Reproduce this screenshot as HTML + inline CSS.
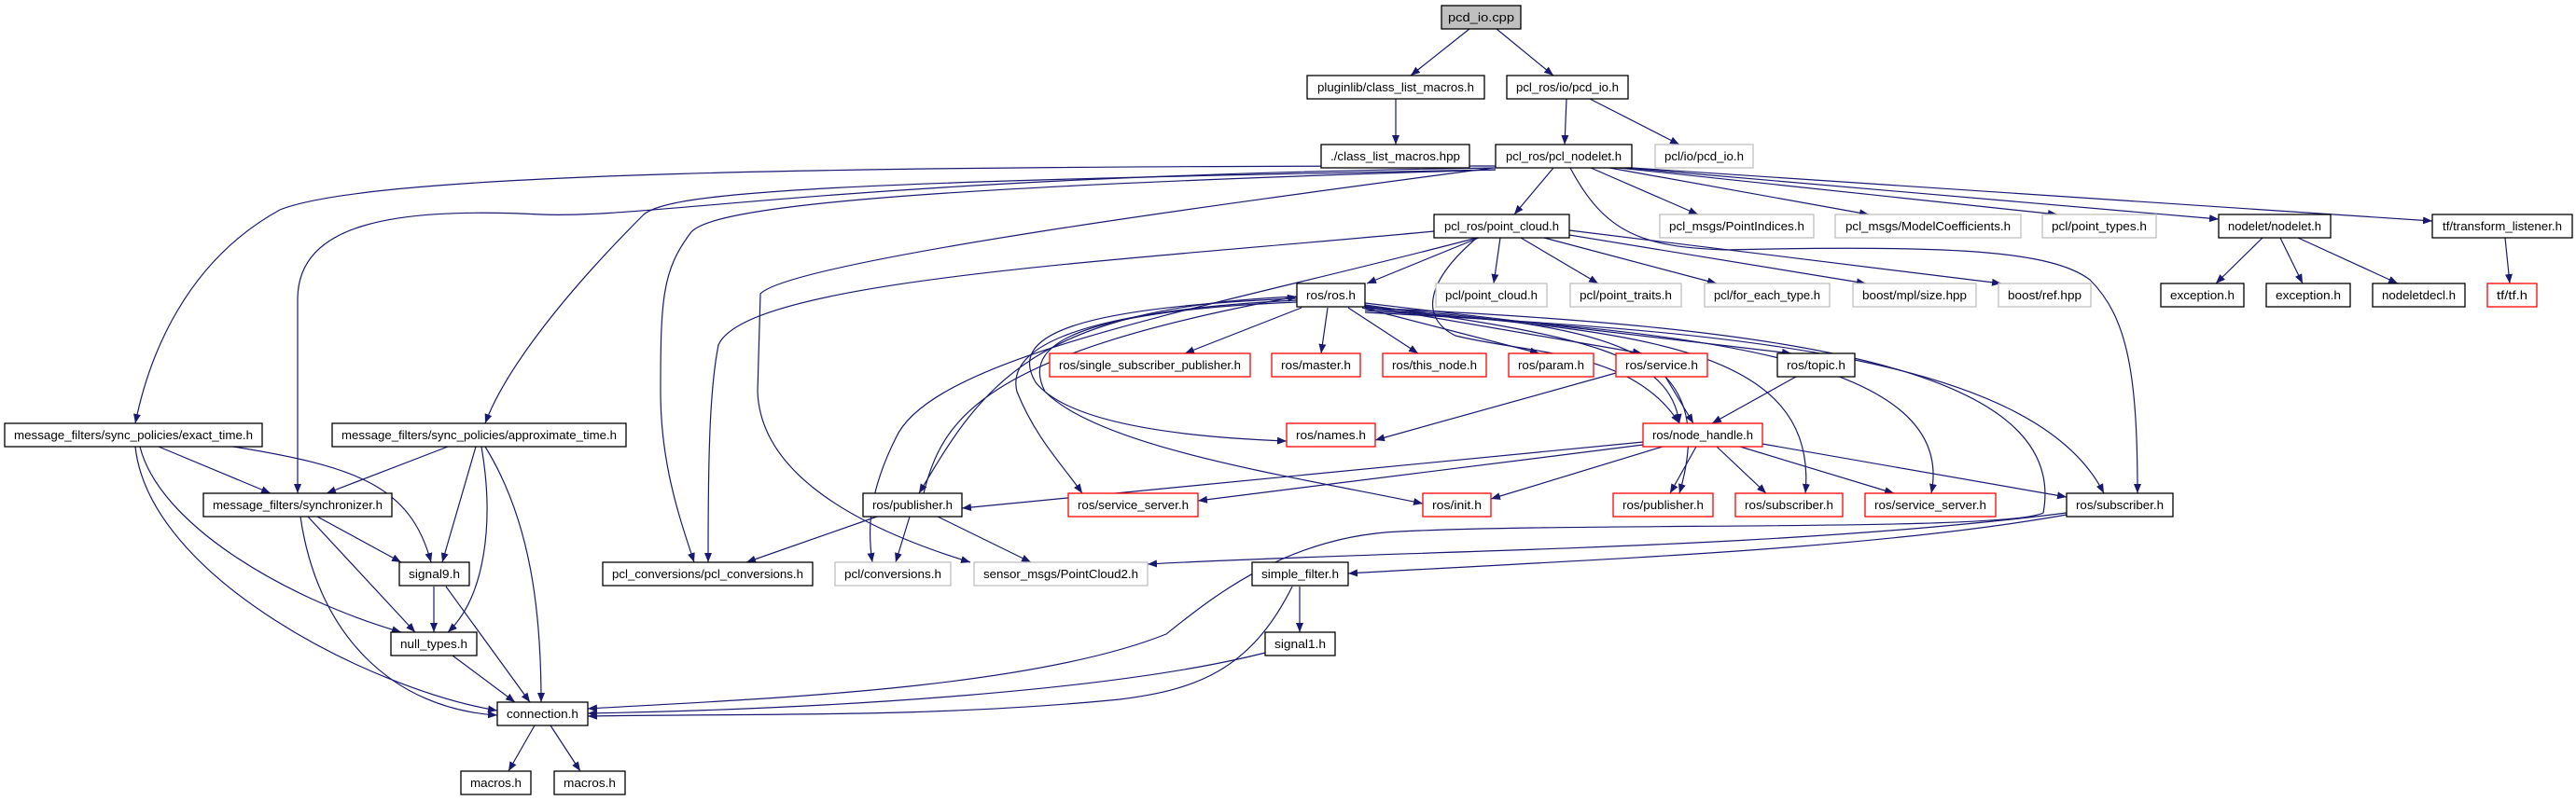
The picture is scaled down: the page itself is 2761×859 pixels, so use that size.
<!DOCTYPE html>
<html><head><meta charset="utf-8"><style>
html,body{margin:0;padding:0;background:#fff;}
svg{display:block;}
text{font-family:"Liberation Sans",sans-serif;font-size:13px;fill:#000;}
.e{fill:none;stroke:#191970;stroke-width:1.2;}
</style></head><body>
<svg width="2761" height="859" viewBox="0 0 2761 859" xmlns="http://www.w3.org/2000/svg">
<defs><marker id="a" viewBox="0 0 10 8" refX="10" refY="4" markerWidth="10" markerHeight="8" markerUnits="userSpaceOnUse" orient="auto"><path d="M0,0 L10,4 L0,8 z" fill="#191970"/></marker></defs>
<g class="e" marker-end="url(#a)">
<path d="M1575,31 L1512,81"/>
<path d="M1604,31 L1665,81"/>
<path d="M1496,106 L1496,155"/>
<path d="M1679,106 L1677,155"/>
<path d="M1704,106 L1800,155"/>
<path d="M1665,180 L1623,230"/>
<path d="M1705,180 L1820,230"/>
<path d="M1725,180 L2003,230"/>
<path d="M1735,180 L2205,230"/>
<path d="M1742,180 L2378,235"/>
<path d="M1749,180 L2607,237"/>
<path d="M1603,178 C900,178 400,185 300,225 C200,280 160,380 145,454"/>
<path d="M1603,180 C900,190 700,235 580,230 C420,222 320,240 319,320 L319,529"/>
<path d="M1603,182 C900,195 720,205 690,230 C600,320 540,400 520,454"/>
<path d="M1603,182 C1000,200 760,220 740,250 C710,290 708,320 708,420 C708,500 730,560 744,603"/>
<path d="M1537,248 C1200,280 800,300 770,370 C760,420 759,500 759,603"/>
<path d="M1600,180 C1300,220 850,280 815,315 L812,420 C815,500 900,560 1040,603"/>
<path d="M1583,255 C1300,330 1000,380 960,470 C930,530 930,570 935,603"/>
<path d="M1683,180 C1720,250 1760,265 1850,268 C2100,262 2200,270 2240,300 C2280,340 2291,400 2291,529"/>
<path d="M1585,255 L1465,304"/>
<path d="M1608,255 L1601,304"/>
<path d="M1630,255 L1713,304"/>
<path d="M1655,255 L1840,304"/>
<path d="M1682,252 L2000,304"/>
<path d="M1682,247 L2145,304"/>
<path d="M1583,255 C1530,300 1520,340 1560,360 C1640,380 1750,375 1800,454"/>
<path d="M1395,330 L1270,379"/>
<path d="M1423,330 L1416,379"/>
<path d="M1445,330 L1520,379"/>
<path d="M1460,330 L1650,379"/>
<path d="M1463,328 L1760,379"/>
<path d="M1463,325 L1920,379"/>
<path d="M1463,327 C1700,360 1790,380 1800,454"/>
<path d="M1390,320 C1150,330 1080,360 1110,410 C1150,460 1300,470 1379,473"/>
<path d="M1390,318 C1100,330 1050,420 985,529"/>
<path d="M1390,322 C1130,335 1080,380 1090,420 C1110,470 1140,500 1160,529"/>
<path d="M1390,324 C1120,335 1100,380 1120,420 C1180,480 1380,510 1525,540"/>
<path d="M1463,329 C1700,350 1850,360 1800,529"/>
<path d="M1463,331 C1750,355 1950,370 1935,529"/>
<path d="M1463,333 C1800,355 2100,380 2070,529"/>
<path d="M1463,335 C1850,355 2180,380 2255,529"/>
<path d="M1463,330 C1900,350 2220,390 2190,550 C2150,570 1700,560 1500,570 C1380,575 1300,640 1250,680 C1100,740 800,750 630,760"/>
<path d="M990,529 C1010,450 1050,380 1390,318"/>
<path d="M1732,400 L1474,472"/>
<path d="M1785,404 L1815,454"/>
<path d="M1925,404 L1835,454"/>
<path d="M1761,474 L1031,545"/>
<path d="M1761,477 L1284,537"/>
<path d="M1782,479 L1598,535"/>
<path d="M1818,479 L1790,529"/>
<path d="M1840,479 L1893,529"/>
<path d="M1865,479 L2030,529"/>
<path d="M1889,476 L2215,533"/>
<path d="M940,554 L800,603"/>
<path d="M975,554 L960,603"/>
<path d="M1005,554 L1105,603"/>
<path d="M2215,552 C2000,590 1700,600 1445,615"/>
<path d="M2215,550 C1900,590 1500,590 1230,605"/>
<path d="M1393,629 L1393,678"/>
<path d="M1385,629 C1340,720 1280,740 1200,750 C1000,770 800,765 630,768"/>
<path d="M1356,700 C1200,740 900,760 630,765"/>
<path d="M170,479 L290,529"/>
<path d="M250,479 C380,500 440,520 462,603"/>
<path d="M150,479 C170,560 300,640 430,678"/>
<path d="M145,479 C160,620 400,740 533,762"/>
<path d="M480,479 L350,529"/>
<path d="M510,479 L474,603"/>
<path d="M516,479 C530,560 520,640 480,678"/>
<path d="M520,479 C570,560 580,660 580,753"/>
<path d="M340,554 L430,603"/>
<path d="M330,554 L445,678"/>
<path d="M322,554 C340,680 420,760 533,767"/>
<path d="M465,629 L465,678"/>
<path d="M478,629 L568,753"/>
<path d="M485,703 L552,753"/>
<path d="M573,778 L545,827"/>
<path d="M590,778 L622,827"/>
<path d="M2425,255 L2375,304"/>
<path d="M2444,255 L2468,304"/>
<path d="M2463,255 L2570,304"/>
<path d="M2685,255 L2690,304"/>
</g>
<g stroke-width="1.3">
<rect x="1545" y="6" width="85" height="25" fill="#bfbfbf" stroke="#000"/><text x="1587.5" y="23" text-anchor="middle" textLength="71" lengthAdjust="spacingAndGlyphs">pcd_io.cpp</text>
</g>
<g fill="#fff" stroke-width="1.3">
<rect x="1401" y="81" width="190" height="25" stroke="#000"/>
<rect x="1615" y="81" width="130" height="25" stroke="#000"/>
<rect x="1416" y="155" width="159" height="25" stroke="#000"/>
<rect x="1603" y="155" width="146" height="25" stroke="#000"/>
<rect x="1774" y="155" width="105" height="25" stroke="#bfbfbf"/>
<rect x="1537" y="230" width="145" height="25" stroke="#000"/>
<rect x="1779" y="230" width="165" height="25" stroke="#bfbfbf"/>
<rect x="1967" y="230" width="199" height="25" stroke="#bfbfbf"/>
<rect x="2189" y="230" width="122" height="25" stroke="#bfbfbf"/>
<rect x="2378" y="230" width="120" height="25" stroke="#000"/>
<rect x="2607" y="230" width="150" height="25" stroke="#000"/>
<rect x="1390" y="304" width="73" height="25" stroke="#000"/>
<rect x="1539" y="304" width="119" height="25" stroke="#bfbfbf"/>
<rect x="1683" y="304" width="119" height="25" stroke="#bfbfbf"/>
<rect x="1827" y="304" width="134" height="25" stroke="#bfbfbf"/>
<rect x="1986" y="304" width="132" height="25" stroke="#bfbfbf"/>
<rect x="2142" y="304" width="99" height="25" stroke="#bfbfbf"/>
<rect x="2316" y="304" width="89" height="25" stroke="#000"/>
<rect x="2429" y="304" width="90" height="25" stroke="#000"/>
<rect x="2543" y="304" width="99" height="25" stroke="#000"/>
<rect x="2666" y="304" width="53" height="25" stroke="#ff0000"/>
<rect x="1125" y="379" width="215" height="25" stroke="#ff0000"/>
<rect x="1363" y="379" width="95" height="25" stroke="#ff0000"/>
<rect x="1482" y="379" width="111" height="25" stroke="#ff0000"/>
<rect x="1617" y="379" width="91" height="25" stroke="#ff0000"/>
<rect x="1732" y="379" width="98" height="25" stroke="#ff0000"/>
<rect x="1905" y="379" width="83" height="25" stroke="#000"/>
<rect x="5" y="454" width="276" height="25" stroke="#000"/>
<rect x="356" y="454" width="315" height="25" stroke="#000"/>
<rect x="1379" y="454" width="95" height="25" stroke="#ff0000"/>
<rect x="1761" y="454" width="128" height="25" stroke="#ff0000"/>
<rect x="218" y="529" width="202" height="25" stroke="#000"/>
<rect x="925" y="529" width="106" height="25" stroke="#000"/>
<rect x="1145" y="529" width="139" height="25" stroke="#ff0000"/>
<rect x="1525" y="529" width="73" height="25" stroke="#ff0000"/>
<rect x="1729" y="529" width="107" height="25" stroke="#ff0000"/>
<rect x="1860" y="529" width="115" height="25" stroke="#ff0000"/>
<rect x="1999" y="529" width="140" height="25" stroke="#ff0000"/>
<rect x="2215" y="529" width="114" height="25" stroke="#000"/>
<rect x="428" y="603" width="75" height="25" stroke="#000"/>
<rect x="646" y="603" width="225" height="25" stroke="#000"/>
<rect x="895" y="603" width="124" height="25" stroke="#bfbfbf"/>
<rect x="1044" y="603" width="186" height="25" stroke="#bfbfbf"/>
<rect x="1342" y="603" width="103" height="25" stroke="#000"/>
<rect x="419" y="678" width="92" height="25" stroke="#000"/>
<rect x="1356" y="678" width="75" height="25" stroke="#000"/>
<rect x="533" y="753" width="97" height="25" stroke="#000"/>
<rect x="494" y="827" width="75" height="25" stroke="#000"/>
<rect x="594" y="827" width="76" height="25" stroke="#000"/>
</g>
<g text-anchor="middle">
<text x="1496" y="98" textLength="168" lengthAdjust="spacingAndGlyphs">pluginlib/class_list_macros.h</text>
<text x="1680" y="98" textLength="110" lengthAdjust="spacingAndGlyphs">pcl_ros/io/pcd_io.h</text>
<text x="1495.5" y="172" textLength="139" lengthAdjust="spacingAndGlyphs">./class_list_macros.hpp</text>
<text x="1676" y="172" textLength="124" lengthAdjust="spacingAndGlyphs">pcl_ros/pcl_nodelet.h</text>
<text x="1826.5" y="172" textLength="85" lengthAdjust="spacingAndGlyphs">pcl/io/pcd_io.h</text>
<text x="1609.5" y="247" textLength="123" lengthAdjust="spacingAndGlyphs">pcl_ros/point_cloud.h</text>
<text x="1861.5" y="247" textLength="145" lengthAdjust="spacingAndGlyphs">pcl_msgs/PointIndices.h</text>
<text x="2066.5" y="247" textLength="177" lengthAdjust="spacingAndGlyphs">pcl_msgs/ModelCoefficients.h</text>
<text x="2250" y="247" textLength="102" lengthAdjust="spacingAndGlyphs">pcl/point_types.h</text>
<text x="2438" y="247" textLength="100" lengthAdjust="spacingAndGlyphs">nodelet/nodelet.h</text>
<text x="2682" y="247" textLength="128" lengthAdjust="spacingAndGlyphs">tf/transform_listener.h</text>
<text x="1426.5" y="321" textLength="53" lengthAdjust="spacingAndGlyphs">ros/ros.h</text>
<text x="1598.5" y="321" textLength="99" lengthAdjust="spacingAndGlyphs">pcl/point_cloud.h</text>
<text x="1742.5" y="321" textLength="99" lengthAdjust="spacingAndGlyphs">pcl/point_traits.h</text>
<text x="1894" y="321" textLength="114" lengthAdjust="spacingAndGlyphs">pcl/for_each_type.h</text>
<text x="2052" y="321" textLength="112" lengthAdjust="spacingAndGlyphs">boost/mpl/size.hpp</text>
<text x="2191.5" y="321" textLength="79" lengthAdjust="spacingAndGlyphs">boost/ref.hpp</text>
<text x="2360.5" y="321" textLength="69" lengthAdjust="spacingAndGlyphs">exception.h</text>
<text x="2474" y="321" textLength="70" lengthAdjust="spacingAndGlyphs">exception.h</text>
<text x="2592.5" y="321" textLength="79" lengthAdjust="spacingAndGlyphs">nodeletdecl.h</text>
<text x="2692.5" y="321" textLength="33" lengthAdjust="spacingAndGlyphs">tf/tf.h</text>
<text x="1232.5" y="396" textLength="195" lengthAdjust="spacingAndGlyphs">ros/single_subscriber_publisher.h</text>
<text x="1410.5" y="396" textLength="75" lengthAdjust="spacingAndGlyphs">ros/master.h</text>
<text x="1537.5" y="396" textLength="91" lengthAdjust="spacingAndGlyphs">ros/this_node.h</text>
<text x="1662.5" y="396" textLength="71" lengthAdjust="spacingAndGlyphs">ros/param.h</text>
<text x="1781" y="396" textLength="78" lengthAdjust="spacingAndGlyphs">ros/service.h</text>
<text x="1946.5" y="396" textLength="63" lengthAdjust="spacingAndGlyphs">ros/topic.h</text>
<text x="143" y="471" textLength="256" lengthAdjust="spacingAndGlyphs">message_filters/sync_policies/exact_time.h</text>
<text x="513.5" y="471" textLength="295" lengthAdjust="spacingAndGlyphs">message_filters/sync_policies/approximate_time.h</text>
<text x="1426.5" y="471" textLength="75" lengthAdjust="spacingAndGlyphs">ros/names.h</text>
<text x="1825" y="471" textLength="108" lengthAdjust="spacingAndGlyphs">ros/node_handle.h</text>
<text x="319" y="546" textLength="182" lengthAdjust="spacingAndGlyphs">message_filters/synchronizer.h</text>
<text x="978" y="546" textLength="86" lengthAdjust="spacingAndGlyphs">ros/publisher.h</text>
<text x="1214.5" y="546" textLength="119" lengthAdjust="spacingAndGlyphs">ros/service_server.h</text>
<text x="1561.5" y="546" textLength="53" lengthAdjust="spacingAndGlyphs">ros/init.h</text>
<text x="1782.5" y="546" textLength="87" lengthAdjust="spacingAndGlyphs">ros/publisher.h</text>
<text x="1917.5" y="546" textLength="95" lengthAdjust="spacingAndGlyphs">ros/subscriber.h</text>
<text x="2069" y="546" textLength="120" lengthAdjust="spacingAndGlyphs">ros/service_server.h</text>
<text x="2272" y="546" textLength="94" lengthAdjust="spacingAndGlyphs">ros/subscriber.h</text>
<text x="465.5" y="620" textLength="55" lengthAdjust="spacingAndGlyphs">signal9.h</text>
<text x="758.5" y="620" textLength="205" lengthAdjust="spacingAndGlyphs">pcl_conversions/pcl_conversions.h</text>
<text x="957" y="620" textLength="104" lengthAdjust="spacingAndGlyphs">pcl/conversions.h</text>
<text x="1137" y="620" textLength="166" lengthAdjust="spacingAndGlyphs">sensor_msgs/PointCloud2.h</text>
<text x="1393.5" y="620" textLength="83" lengthAdjust="spacingAndGlyphs">simple_filter.h</text>
<text x="465" y="695" textLength="72" lengthAdjust="spacingAndGlyphs">null_types.h</text>
<text x="1393.5" y="695" textLength="55" lengthAdjust="spacingAndGlyphs">signal1.h</text>
<text x="581.5" y="770" textLength="77" lengthAdjust="spacingAndGlyphs">connection.h</text>
<text x="531.5" y="844" textLength="55" lengthAdjust="spacingAndGlyphs">macros.h</text>
<text x="632" y="844" textLength="56" lengthAdjust="spacingAndGlyphs">macros.h</text>
</g>
</svg>
</body></html>
